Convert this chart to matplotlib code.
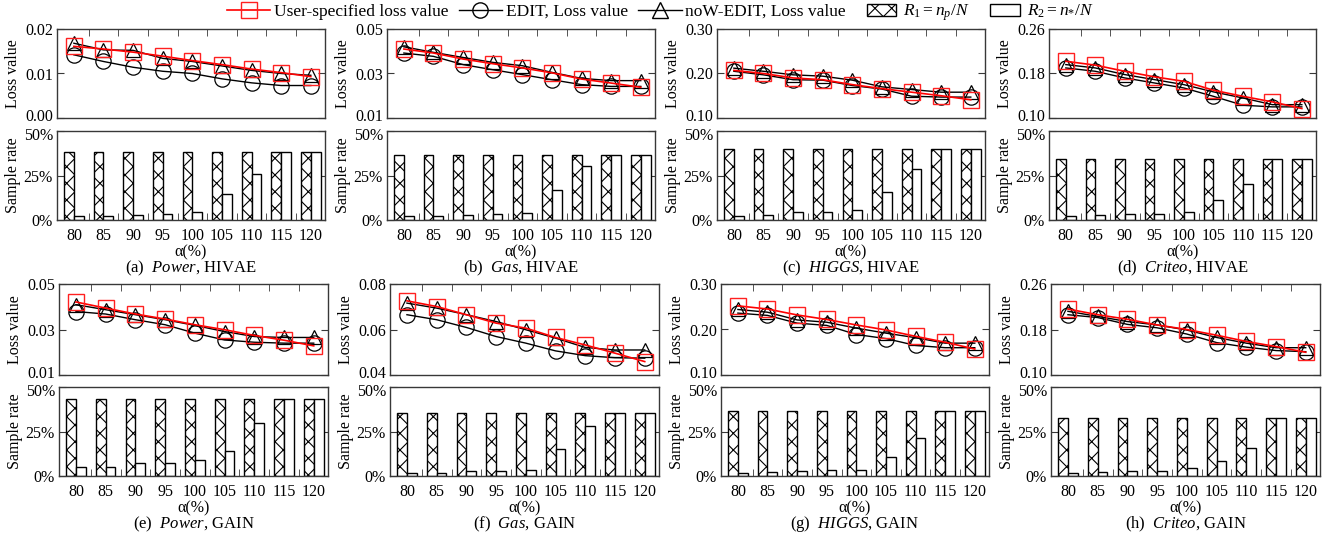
import matplotlib
matplotlib.use("Agg")
import matplotlib.pyplot as plt
import matplotlib.patches as mpatches
import matplotlib.transforms as mtransforms
from matplotlib.lines import Line2D
from matplotlib.legend_handler import HandlerPatch
from matplotlib.ticker import FixedLocator, FuncFormatter

plt.rcParams['font.family'] = ['Liberation Serif', 'DejaVu Serif']
plt.rcParams['mathtext.fontset'] = 'custom'
plt.rcParams['mathtext.rm'] = 'Liberation Serif'
plt.rcParams['mathtext.it'] = 'Liberation Serif:italic'
plt.rcParams['mathtext.bf'] = 'Liberation Serif:bold'
plt.rcParams['hatch.linewidth'] = 0.8

alphas = ["80", "85", "90", "95", "100", "105", "110", "115", "120"]

# (a) Power, HIVAE
user_a = [0.0161, 0.0155, 0.0148, 0.0139, 0.0129, 0.0120, 0.0110, 0.0102, 0.0093]
edit_a = [0.0142, 0.0127, 0.0114, 0.0105, 0.0100, 0.0088, 0.0079, 0.0073, 0.0073]
now_a = [0.0168, 0.0153, 0.0152, 0.0134, 0.0127, 0.0117, 0.0107, 0.0100, 0.0096]
r1_a = [38.2] * 9
r2_a = [2.4, 2.4, 2.8, 3.2, 4.3, 14.7, 26.1, 38.2, 38.2]

# (b) Gas, HIVAE
user_b = [0.0410, 0.0392, 0.0365, 0.0344, 0.0325, 0.0303, 0.0275, 0.0257, 0.0238]
edit_b = [0.0392, 0.0377, 0.0340, 0.0317, 0.0295, 0.0272, 0.0250, 0.0242, 0.0242]
now_b = [0.0420, 0.0395, 0.0372, 0.0350, 0.0335, 0.0305, 0.0278, 0.0268, 0.0268]
r1_b = [36.4] * 9
r2_b = [2.2, 2.2, 2.8, 3.2, 3.7, 16.6, 30.2, 36.4, 36.4]

# (c) HIGGS, HIVAE
user_c = [0.207, 0.200, 0.190, 0.186, 0.175, 0.166, 0.158, 0.150, 0.141]
edit_c = [0.205, 0.197, 0.186, 0.185, 0.173, 0.165, 0.149, 0.147, 0.147]
now_c = [0.212, 0.205, 0.197, 0.194, 0.185, 0.170, 0.164, 0.158, 0.158]
r1_c = [40.1] * 9
r2_c = [2.4, 2.8, 4.3, 4.3, 5.4, 16.0, 28.4, 40.1, 40.1]

# (d) Criteo, HIVAE
user_d = [0.202, 0.195, 0.184, 0.174, 0.166, 0.150, 0.139, 0.129, 0.117]
edit_d = [0.190, 0.184, 0.172, 0.163, 0.154, 0.139, 0.123, 0.120, 0.120]
now_d = [0.196, 0.190, 0.178, 0.169, 0.160, 0.147, 0.136, 0.124, 0.124]
r1_d = [34.5] * 9
r2_d = [2.4, 2.8, 3.5, 3.5, 4.5, 11.2, 20.0, 34.5, 34.5]

# (e) Power, GAIN
user_e = [0.0421, 0.0394, 0.0368, 0.0346, 0.0321, 0.0299, 0.0274, 0.0253, 0.0228]
edit_e = [0.0379, 0.0368, 0.0343, 0.0321, 0.0284, 0.0254, 0.0244, 0.0240, 0.0240]
now_e = [0.0409, 0.0387, 0.0365, 0.0343, 0.0318, 0.0291, 0.0269, 0.0265, 0.0265]
r1_e = [43.4] * 9
r2_e = [4.9, 5.2, 7.5, 7.5, 9.2, 13.9, 30.0, 43.4, 43.4]

# (f) Gas, GAIN
user_f = [0.0726, 0.0701, 0.0665, 0.0628, 0.0606, 0.0565, 0.0532, 0.0496, 0.0459]
edit_f = [0.0665, 0.0643, 0.0609, 0.0569, 0.0540, 0.0506, 0.0485, 0.0476, 0.0474]
now_f = [0.0716, 0.0694, 0.0665, 0.0635, 0.0599, 0.0562, 0.0521, 0.0510, 0.0510]
r1_f = [35.6] * 9
r2_f = [1.9, 1.9, 2.6, 2.6, 3.6, 15.2, 28.1, 35.6, 35.6]

# (g) HIGGS, GAIN
user_g = [0.252, 0.245, 0.232, 0.222, 0.210, 0.199, 0.185, 0.172, 0.157]
edit_g = [0.236, 0.231, 0.214, 0.209, 0.189, 0.180, 0.165, 0.160, 0.160]
now_g = [0.244, 0.238, 0.221, 0.216, 0.203, 0.192, 0.182, 0.170, 0.170]
r1_g = [36.5] * 9
r2_g = [1.9, 2.2, 2.6, 3.2, 3.2, 10.9, 21.5, 36.5, 36.5]

# (h) Criteo, GAIN
user_h = [0.216, 0.206, 0.198, 0.188, 0.180, 0.170, 0.159, 0.150, 0.140]
edit_h = [0.206, 0.201, 0.189, 0.183, 0.172, 0.157, 0.149, 0.143, 0.141]
now_h = [0.212, 0.203, 0.194, 0.188, 0.179, 0.166, 0.156, 0.148, 0.148]
r1_h = [32.8] * 9
r2_h = [1.9, 2.2, 3.0, 3.0, 4.3, 8.4, 15.5, 32.8, 32.8]

captions = [("(a)", "Power", "HIVAE"), ("(b)", "Gas", "HIVAE"),
            ("(c)", "HIGGS", "HIVAE"), ("(d)", "Criteo", "HIVAE"),
            ("(e)", "Power", "GAIN"), ("(f)", "Gas", "GAIN"),
            ("(g)", "HIGGS", "GAIN"), ("(h)", "Criteo", "GAIN")]
yticks_loss = [[0.00, 0.01, 0.02], [0.01, 0.03, 0.05], [0.10, 0.20, 0.30], [0.10, 0.18, 0.26],
               [0.01, 0.03, 0.05], [0.04, 0.06, 0.08], [0.10, 0.20, 0.30], [0.10, 0.18, 0.26]]

panels = [
    (user_a, edit_a, now_a, r1_a, r2_a),
    (user_b, edit_b, now_b, r1_b, r2_b),
    (user_c, edit_c, now_c, r1_c, r2_c),
    (user_d, edit_d, now_d, r1_d, r2_d),
    (user_e, edit_e, now_e, r1_e, r2_e),
    (user_f, edit_f, now_f, r1_f, r2_f),
    (user_g, edit_g, now_g, r1_g, r2_g),
    (user_h, edit_h, now_h, r1_h, r2_h),
]

W, H = 1335, 542
fig = plt.figure(figsize=(W / 100, H / 100), dpi=100)

col_x = [[(57, 325), (387, 655), (717, 985), (1049, 1316)],
         [(59, 328), (390, 659), (721, 989), (1051, 1320)]]
row_y = [((29, 118), (131, 220)), ((284, 375), (387, 476))]
cap_y = [268, 524]

FRAME = '#383838'
n = len(alphas)
xs = list(range(n))
bw = 0.33


def rect_from_px(x0, x1, y0, y1):
    return [x0 / W, 1 - y1 / H, (x1 - x0) / W, (y1 - y0) / H]


def style_frame(ax):
    for s in ax.spines.values():
        s.set_color(FRAME)
        s.set_linewidth(1.0)


def nudge(label, dy_px):
    off = mtransforms.ScaledTranslation(0, dy_px / 100, fig.dpi_scale_trans)
    label.set_transform(label.get_transform() + off)


for k, (user, edit, now, r1, r2) in enumerate(panels):
    row, col = divmod(k, 4)
    x0, x1 = col_x[row][col]
    (ly0, ly1), (by0, by1) = row_y[row]
    axl = fig.add_axes(rect_from_px(x0, x1, ly0, ly1))
    axb = fig.add_axes(rect_from_px(x0, x1, by0, by1))

    # loss lines
    axl.plot(xs, edit, color='black', lw=1.0, marker='o', ms=11, mfc='none',
             mec='black', mew=0.9, zorder=3)
    axl.plot(xs, now, color='black', lw=1.0, marker='^', ms=10, mfc='none',
             mec='black', mew=0.9, zorder=3)
    axl.plot(xs, user, color='#ff0000', lw=1.2, marker='s', ms=12, mfc='none',
             mec='#ff2020', mew=1.0, zorder=4)
    yt = yticks_loss[k]
    axl.set_ylim(yt[0], yt[-1])
    axl.set_xlim(-0.57, n - 1 + 0.48)
    axl.set_yticks(yt)
    axl.yaxis.set_major_formatter(FuncFormatter(lambda v, p: f"{v:.2f}"))
    axl.set_xticks([])
    axl.xaxis.set_minor_locator(FixedLocator([i + 0.5 for i in range(n - 1)]))
    axl.tick_params(axis='x', which='minor', direction='in', length=5, top=True,
                    bottom=False, color=FRAME)
    axl.tick_params(axis='y', direction='in', length=5, left=True, right=True,
                    labelsize=11.5, pad=3, color=FRAME)
    axl.set_ylabel("Loss value", fontsize=11.5)
    axl.yaxis.set_label_coords(-0.135, 0.5)
    style_frame(axl)
    nudge(axl.yaxis.get_major_ticks()[0].label1, 3)

    # bars
    axb.bar([x - bw / 2 for x in xs], r1, width=bw, color='white', edgecolor='black',
            hatch='xx', lw=1.0, zorder=2)
    axb.bar([x + bw / 2 for x in xs], r2, width=bw, color='white', edgecolor='black',
            lw=1.0, zorder=2)
    axb.set_ylim(0, 50)
    axb.set_xlim(-0.57, n - 1 + 0.48)
    axb.set_yticks([0, 25, 50])
    axb.yaxis.set_major_formatter(FuncFormatter(lambda v, p: f"{int(v)}%"))
    axb.set_xticks(xs)
    axb.set_xticklabels(alphas)
    axb.xaxis.set_minor_locator(FixedLocator([i + 0.5 for i in range(n - 1)]))
    axb.tick_params(axis='x', which='major', length=0, labelsize=11.5, pad=6)
    axb.tick_params(axis='x', which='minor', direction='in', length=5, bottom=True,
                    top=False, color=FRAME)
    axb.tick_params(axis='y', direction='in', length=5, left=True, right=True,
                    labelsize=11.5, pad=3, color=FRAME)
    axb.set_ylabel("Sample rate", fontsize=11.5)
    axb.yaxis.set_label_coords(-0.135, 0.5)
    axb.set_xlabel("α(%)", fontsize=11.5, labelpad=0)
    style_frame(axb)
    nudge(axb.yaxis.get_major_ticks()[-1].label1, -3)

    cx = (x0 + x1) / 2 / W
    lab, ds, model = captions[k]
    fig.text(cx, 1 - cap_y[row] / H, f"{lab}  $\\mathit{{{ds}}}$, {model}",
             ha='center', va='center', fontsize=12)


def make_rect(legend, orig_handle, xdescent, ydescent, width, height, fontsize):
    w = width * 0.68
    h = height * 0.95
    return mpatches.Rectangle((-xdescent + (width - w) * 0.75, -ydescent + (height - h) / 2), w, h)


handles = [
    Line2D([], [], color='#ff0000', lw=1.2, marker='s', ms=11, mfc='none', mec='#ff2020'),
    Line2D([], [], color='black', lw=1.0, marker='o', ms=11, mfc='none', mec='black'),
    Line2D([], [], color='black', lw=1.0, marker='^', ms=11, mfc='none', mec='black'),
    mpatches.Patch(facecolor='white', edgecolor='black', hatch='xx', lw=1.0),
    mpatches.Patch(facecolor='white', edgecolor='black', lw=1.0),
]
labels = ["User-specified loss value", "EDIT, Loss value", "noW-EDIT, Loss value",
          "$R_1 = n_p/N$", "$R_2 = n_{*}/N$"]
fig.legend(handles, labels, loc='center', bbox_to_anchor=(660 / W, 1 - 13 / H),
           ncol=5, frameon=False, fontsize=12.5, handlelength=2.5, handletextpad=0.2,
           columnspacing=0.6, borderpad=0, borderaxespad=0,
           handler_map={mpatches.Patch: HandlerPatch(patch_func=make_rect)})

fig.savefig("out.png", dpi=100)
